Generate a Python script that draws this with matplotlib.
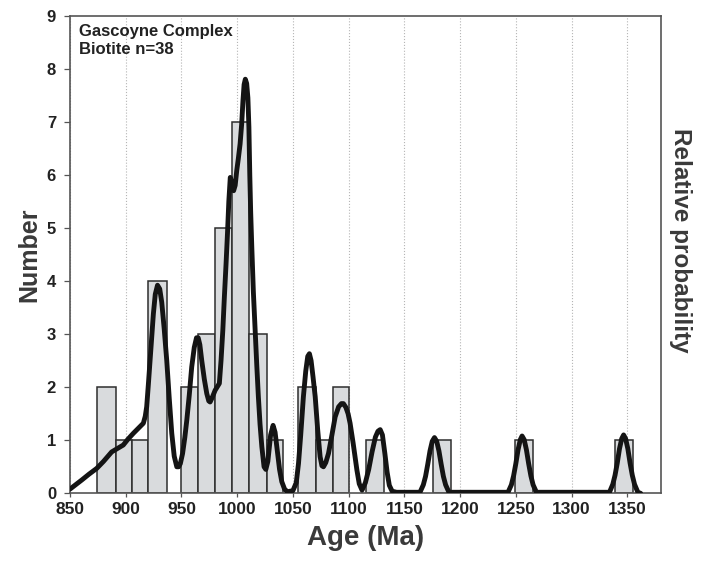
"""
Gascoyne Complex - biotite ages
Histogram (Number) with relative probability curve on top.
"""

import numpy as np
import matplotlib
matplotlib.use("Agg")
import matplotlib.pyplot as plt

# ---------------------------------------------------------------------------
# Data
# ---------------------------------------------------------------------------
bin_left  = [874.0, 891.0, 905.4, 920.3, 949.6, 965.2, 980.2, 995.7, 1011.0,
             1026.6, 1054.4, 1070.8, 1085.8, 1115.7, 1175.5, 1249.0, 1339.2]
bin_right = [891.0, 905.4, 920.3, 937.3, 965.2, 980.2, 995.7, 1011.0, 1026.6,
             1041.5, 1070.8, 1085.8, 1100.7, 1131.5, 1191.5, 1265.3, 1355.4]
counts    = [2, 1, 1, 4, 2, 3, 5, 7, 3, 1, 2, 1, 2, 1, 1, 1, 1]

# relative probability curve, traced in "Number" units
curve_age = [
    850.0, 855.0, 860.5, 867.0, 874.0, 880.0, 887.4, 893.0, 897.8, 902.0,
    906.8, 911.0, 915.8, 917.5, 918.8, 920.3, 921.8, 923.3, 924.8, 926.5,
    928.5, 930.5, 932.3, 934.5, 936.8, 939.0, 941.3, 943.5, 945.8, 947.5,
    949.0, 951.0, 953.0, 954.8, 957.0, 959.2, 961.5, 963.5, 965.0, 966.5,
    968.2, 970.5, 972.7, 974.5, 975.7, 977.5, 980.2, 982.0, 984.0, 985.5,
    987.1, 988.5, 990.0, 991.3, 992.5, 993.8, 995.3, 996.8, 998.2, 999.6,
    1001.0, 1002.6, 1004.0, 1005.2, 1006.2, 1007.3, 1008.5, 1009.6, 1010.5,
    1011.3, 1012.1, 1013.1, 1014.5, 1016.1, 1017.6, 1019.0, 1020.5, 1022.1,
    1024.1, 1025.7, 1027.5, 1030.0, 1032.2, 1034.0, 1036.0, 1038.0, 1040.0,
    1042.5, 1045.0, 1050.0, 1053.0, 1055.0, 1057.0, 1059.4, 1061.5, 1063.3,
    1064.8, 1066.3, 1068.0, 1070.0, 1072.2, 1074.4, 1076.0, 1077.4, 1079.5,
    1081.9, 1085.0, 1087.9, 1091.0, 1093.5, 1095.3, 1097.5, 1099.5, 1101.3,
    1104.0, 1107.4, 1109.5, 1112.0, 1115.0, 1118.0, 1121.0, 1124.0, 1126.3,
    1128.3, 1130.3, 1132.5, 1134.5, 1136.5, 1139.0, 1143.0,
    1164.0, 1167.0, 1169.0, 1171.0, 1173.0, 1175.0, 1177.0, 1179.0, 1181.0,
    1183.0, 1185.0, 1187.0, 1190.0,
    1243.0, 1246.0, 1248.0, 1250.0, 1252.0, 1254.0, 1255.6, 1257.5, 1259.5,
    1261.5, 1263.5, 1265.5, 1268.5,
    1334.0, 1337.0, 1339.0, 1341.0, 1343.0, 1345.0, 1346.7, 1348.5, 1350.5,
    1352.5, 1354.5, 1356.5, 1359.5, 1362.0]
curve_val = [
    0.08, 0.16, 0.25, 0.36, 0.47, 0.60, 0.78, 0.85, 0.91, 1.02,
    1.13, 1.22, 1.32, 1.45, 1.63, 2.05, 2.50, 2.95, 3.38, 3.75,
    3.92, 3.85, 3.60, 3.10, 2.50, 1.80, 1.13, 0.70, 0.50, 0.50,
    0.56, 0.75, 1.05, 1.38, 1.85, 2.38, 2.75, 2.93, 2.93, 2.80,
    2.50, 2.15, 1.88, 1.74, 1.72, 1.80, 1.94, 2.00, 2.07, 2.50,
    3.07, 3.70, 4.32, 4.90, 5.50, 5.95, 5.85, 5.70, 5.80, 6.08,
    6.30, 6.58, 6.95, 7.40, 7.70, 7.80, 7.72, 7.45, 6.90,
    6.00, 5.30, 4.64, 3.80, 3.07, 2.40, 1.82, 1.30, 0.88,
    0.50, 0.45, 0.60, 1.10, 1.28, 1.15, 0.80, 0.45, 0.22,
    0.08, 0.03, 0.05, 0.20, 0.56, 1.10, 1.82, 2.30, 2.58,
    2.63, 2.50, 2.20, 1.82, 1.20, 0.69, 0.52, 0.50, 0.58,
    0.75, 1.10, 1.44, 1.63, 1.69, 1.69, 1.62, 1.50, 1.32,
    0.95, 0.44, 0.18, 0.06, 0.20, 0.45, 0.78, 1.06, 1.17,
    1.20, 1.10, 0.75, 0.40, 0.15, 0.04, 0.02,
    0.02, 0.16, 0.32, 0.55, 0.80, 0.98, 1.05, 0.98, 0.80,
    0.55, 0.32, 0.16, 0.02,
    0.02, 0.16, 0.33, 0.56, 0.82, 1.01, 1.08, 1.01, 0.82,
    0.56, 0.33, 0.16, 0.02,
    0.02, 0.17, 0.34, 0.57, 0.84, 1.03, 1.10, 1.03, 0.84,
    0.57, 0.34, 0.17, 0.02, 0.00]

x_ticks = [850, 900, 950, 1000, 1050, 1100, 1150, 1200, 1250, 1300, 1350]
y_ticks = list(range(0, 10))

# ---------------------------------------------------------------------------
# Style
# ---------------------------------------------------------------------------
plt.rcParams["font.family"] = ["Liberation Sans", "DejaVu Sans"]
NARROW = ["Liberation Sans Narrow", "Liberation Sans"]
TXT = "#3a3a3a"
SPINE = "#555555"

fig = plt.figure(figsize=(7.10, 5.64), dpi=100)
ax = fig.add_axes([0.0986, 0.1253, 0.8320, 0.8472])

# bars
lefts = np.array(bin_left)
widths = np.array(bin_right) - lefts
ax.bar(lefts, counts, width=widths, align="edge", color="#d9dbdd",
       edgecolor="#2e2e2e", linewidth=1.1, zorder=2)

# probability curve
ax.plot(curve_age, curve_val, color="#141414", linewidth=3.5,
        solid_joinstyle="round", solid_capstyle="round", zorder=3)

ax.set_xlim(850, 1380)
ax.set_ylim(0, 9)
ax.set_xticks(x_ticks)
ax.set_yticks(y_ticks)
ax.set_axisbelow(True)
ax.grid(axis="x", linestyle=":", color="#b5b5b5", linewidth=0.8)

for sp in ax.spines.values():
    sp.set_color(SPINE)
    sp.set_linewidth(1.2)

ax.tick_params(axis="y", direction="out", length=4, width=0.9, color=SPINE,
               pad=6, labelsize=12, labelcolor="#222222")
ax.tick_params(axis="x", direction="out", length=3, width=0.9, color=SPINE,
               pad=3, labelsize=12.5, labelcolor="#222222")
for lab in ax.get_xticklabels() + ax.get_yticklabels():
    lab.set_family(NARROW)
    lab.set_fontweight("bold")

ax.set_xlabel("Age (Ma)", fontsize=20, fontweight="bold", color=TXT,
              labelpad=6)
ax.set_ylabel("Number", fontsize=18, fontweight="bold", color=TXT,
              va="center")
ax.yaxis.set_label_coords(-0.069, 0.5)

# right-hand axis: relative probability (no scale)
ax2 = ax.twinx()
ax2.set_ylim(ax.get_ylim())
ax2.set_yticks([])
ax2.spines[:].set_visible(False)
ax2.set_ylabel("Relative probability", fontsize=17.5, fontweight="bold",
               color=TXT, rotation=-90, va="center")
ax2.yaxis.set_label_coords(1.033, 0.53)

ax.text(0.015, 0.982, "Gascoyne Complex\nBiotite n=38", transform=ax.transAxes,
        ha="left", va="top", fontsize=12, fontweight="bold", color="#222222",
        linespacing=1.25)

plt.savefig("out.png", dpi=100)
